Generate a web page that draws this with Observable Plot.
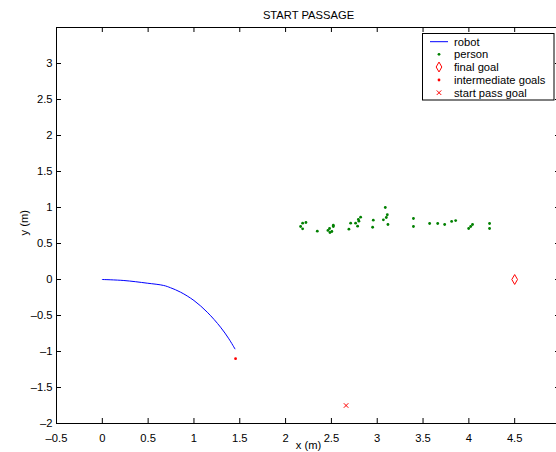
<!DOCTYPE html>
<html><head><meta charset="utf-8">
<script src="https://cdn.jsdelivr.net/npm/d3@7"></script>
<script src="https://cdn.jsdelivr.net/npm/@observablehq/plot@0.6"></script>
<style>
html,body{margin:0;padding:0;overflow:hidden;background:#fff;}
svg{max-width:none !important;}
</style></head><body><div id="chart"></div>
<script>
// ---- data ----
const xTickLabels = [-0.5, 0, 0.5, 1, 1.5, 2, 2.5, 3, 3.5, 4, 4.5];
const xTickMarks = [-0.5, 0, 0.5, 1, 1.5, 2, 2.5, 3, 3.5, 4, 4.5, 5];
const yTicks = [-2, -1.5, -1, -0.5, 0, 0.5, 1, 1.5, 2, 2.5, 3];

const robotX = [0.00, 0.235, 0.49, 0.67, 0.745, 0.854, 1.0, 1.145, 1.29, 1.381, 1.447];
const robotY = [0.00, -0.014, -0.051, -0.083, -0.115, -0.176, -0.292, -0.454, -0.662, -0.824, -0.963];

const personX = [2.164, 2.186, 2.186, 2.222, 2.346, 2.462, 2.480, 2.484, 2.505, 2.521, 2.521,
  2.691, 2.710, 2.764, 2.786, 2.794, 2.800, 2.819, 2.957, 2.950, 3.067, 3.088, 3.099, 3.110, 3.117,
  3.395, 3.395, 3.572, 3.660, 3.736, 3.812, 3.856, 3.998, 4.02, 4.04, 4.226, 4.226];
const personY = [0.736, 0.704, 0.782, 0.792, 0.671, 0.681, 0.708, 0.653, 0.667, 0.754, 0.736,
  0.699, 0.782, 0.782, 0.740, 0.833, 0.810, 0.865, 0.824, 0.726, 0.829, 1.000, 0.861, 0.899, 0.764,
  0.847, 0.736, 0.778, 0.778, 0.764, 0.806, 0.819, 0.708, 0.736, 0.764, 0.778, 0.708];

const finalGoalX = [4.5], finalGoalY = [0];
const interGoalX = [1.454], interGoalY = [-1.10];
const startPassX = [2.66], startPassY = [-1.75];

const legendLabels = ["robot", "person", "final goal", "intermediate goals", "start pass goal"];

// ---- layout ----
const W = 560, H = 452, mL = 56, mT = 27, mB = 29, mR = 0;
const plotH = H - mT - mB, plotW = W - mL - mR, tk = 5;
const fs = 11.2;
const font = "'Liberation Sans', Arial, Helvetica, sans-serif";
const zip = (xs, ys) => xs.map((x, i) => ({x, y: ys[i]}));
const fmt = d => (d < 0 ? "\u2013" + Math.abs(d) : String(d));

const chart = Plot.plot({
  width: W, height: H,
  marginLeft: mL, marginTop: mT, marginBottom: mB, marginRight: mR,
  style: {fontFamily: font, fontSize: fs + "px", background: "white", color: "black", overflow: "hidden"},
  x: {domain: [-0.5, 5]},
  y: {domain: [-2, 3.5]},
  marks: [
    Plot.axisX({ticks: xTickLabels, anchor: "bottom", tickSize: 0, tickPadding: 11, label: null, tickFormat: fmt, fontSize: fs}),
    Plot.axisY({ticks: yTicks, anchor: "left", tickSize: 0, tickPadding: 4, label: null, tickFormat: fmt, fontSize: fs}),
    Plot.ruleX(xTickMarks, {x: d => d, insetTop: plotH - tk, stroke: "black"}),
    Plot.ruleX(xTickMarks, {x: d => d, insetBottom: plotH - tk, stroke: "black"}),
    Plot.ruleY(yTicks, {y: d => d, insetRight: plotW - tk, stroke: "black"}),
    Plot.ruleY(yTicks, {y: d => d, insetLeft: plotW - tk, stroke: "black"}),
    Plot.frame({stroke: "black", strokeWidth: 1}),
    Plot.line(zip(robotX, robotY), {x: "x", y: "y", stroke: "#0000ff", strokeWidth: 1, curve: "catmull-rom"}),
    Plot.dot(zip(personX, personY), {x: "x", y: "y", r: 1.4, fill: "#008000", stroke: "none"}),
    Plot.dot(zip(finalGoalX, finalGoalY), {x: "x", y: "y", symbol: "diamond", r: 3, stroke: "#ff0000", fill: "none", strokeWidth: 1}),
    Plot.dot(zip(interGoalX, interGoalY), {x: "x", y: "y", r: 1.4, fill: "#ff0000", stroke: "none"}),
    Plot.dot(zip(startPassX, startPassY), {x: "x", y: "y", symbol: "times", r: 2.2, stroke: "#ff0000", strokeWidth: 1}),
    Plot.text(["START PASSAGE"], {frameAnchor: "top", lineAnchor: "middle", dy: -12, text: d => d, fontSize: fs, fill: "black"}),
    Plot.text(["x (m)"], {frameAnchor: "bottom", lineAnchor: "middle", dy: 22, text: d => d, fontSize: fs, fill: "black"}),
    Plot.text(["y (m)"], {frameAnchor: "left", lineAnchor: "middle", dx: -32, dy: 10, rotate: -90, text: d => d, fontSize: fs, fill: "black"})
  ]
});

// ---- legend (drawn in the same svg) ----
const svg = d3.select(chart);
const lg = svg.append("g").attr("font-family", font).attr("font-size", fs).attr("text-anchor", "start");
const bx = 422.5, by = 33.5, bw = 131.5, bh = 66.5;
lg.append("rect").attr("x", bx).attr("y", by).attr("width", bw).attr("height", bh)
  .attr("fill", "white").attr("stroke", "black").attr("stroke-width", 1);
const rowY = [41.7, 54.3, 67, 80, 92.7];
const sx = 439;
lg.append("line").attr("x1", 430).attr("x2", 448).attr("y1", rowY[0]).attr("y2", rowY[0])
  .attr("stroke", "#0000ff").attr("stroke-width", 1);
lg.append("circle").attr("cx", sx).attr("cy", rowY[1]).attr("r", 1.4).attr("fill", "#008000");
lg.append("path").attr("transform", `translate(${sx},${rowY[2]})`)
  .attr("d", d3.symbol(d3.symbolDiamond, Math.PI * 9)()).attr("fill", "none").attr("stroke", "#ff0000");
lg.append("circle").attr("cx", sx).attr("cy", rowY[3]).attr("r", 1.4).attr("fill", "#ff0000");
lg.append("path").attr("transform", `translate(${sx},${rowY[4]})`)
  .attr("d", d3.symbol(d3.symbolTimes, Math.PI * 2.2 * 2.2)()).attr("fill", "none").attr("stroke", "#ff0000");
legendLabels.forEach((t, i) => {
  lg.append("text").attr("x", 454).attr("y", rowY[i]).attr("dy", "0.35em")
    .attr("text-anchor", "start").attr("fill", "black").text(t);
});

document.getElementById("chart").appendChild(chart);
</script></body></html>
